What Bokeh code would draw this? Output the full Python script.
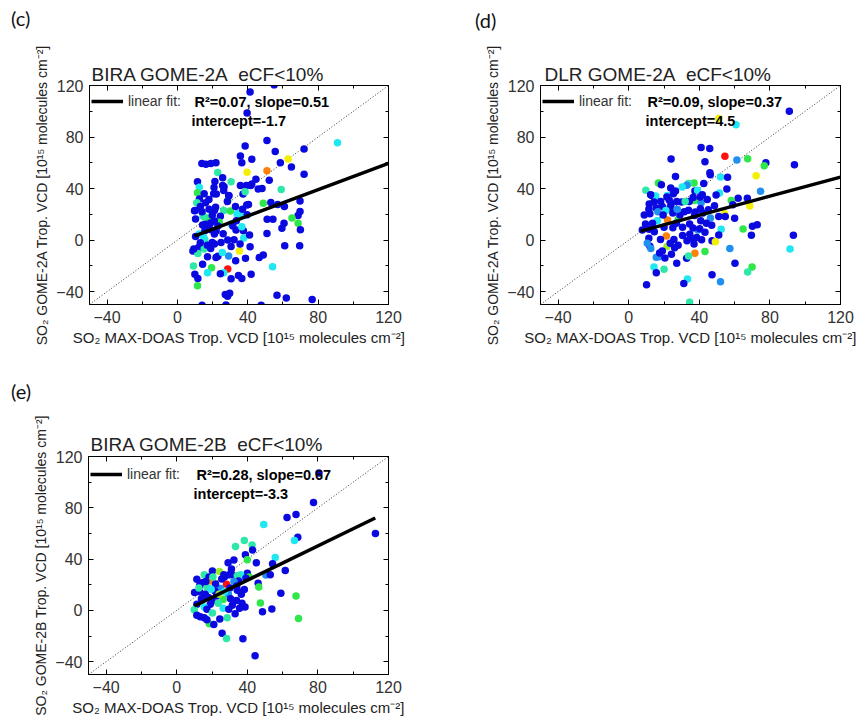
import numpy as np
from bokeh.plotting import figure
from bokeh.layouts import column, row
from bokeh.models import (ColumnDataSource, Div, Label, Legend, LegendItem, LinearAxis,
                          Range1d, SingleIntervalTicker, Spacer, Title)
from bokeh.embed import file_html
from bokeh.resources import INLINE

# ---------------- data ----------------
AXIS_LIM = [-50, 120]
TICK_STEP = 40

# colour classes (jet-like colour scale of the original)
PALETTE = {"b": "#0a0ae0", "s": "#1f8ff0", "c": "#1fe8f2", "a": "#2ee8a8",
           "g": "#2ee84a", "l": "#9aeb2a", "y": "#f2f000", "o": "#ff800a", "r": "#ff1010"}

# (c) BIRA GOME-2A
x_c = [41.3, 39.6, 55.0, 14.0, 47.6, 50.9, 38.5, 72.0, 91.0, 55.6,
       35.8, 62.9, 42.3, 36.6, 58.5, 13.9, 16.2, 19.0, 21.9, 64.8,
       39.6, 50.9, 22.9, 25.7, 72.0, 11.4, 30.5, 44.6, 52.2, 21.3,
       25.7, 35.8, 39.2, 41.7, 12.4, 48.1, 59.0, 11.4, 20.6, 15.2,
       29.1, 37.3, 38.5, 17.9, 12.5, 11.0, 16.0, 28.6, 40.4, 48.8,
       53.1, 57.0, 69.7, 60.8, 10.1, 21.0, 26.3, 30.1, 33.9, 35.4,
       39.6, 69.7, 68.6, 14.5, 10.3, 17.1, 24.4, 51.0, 54.3, 65.1,
       68.6, 60.6, 23.8, 30.5, 15.8, 18.8, 21.0, 33.3, 37.5, 36.6,
       59.4, 69.9, 50.9, 12.4, 15.6, 21.0, 37.7, 41.0, 28.6, 15.6,
       12.0, 15.2, 21.0, 24.8, 30.5, 8.8, 35.2, 41.3, 11.6, 17.1,
       21.9, 29.1, 38.7, 46.5, 48.8, 61.0, 69.5, 9.1, 14.3, 19.4,
       28.6, 54.1, 17.1, 26.3, 24.4, 9.9, 11.6, 34.7, 36.6, 41.9,
       30.5, 11.4, 27.2, 29.7, 28.5, 56.6, 61.9, 76.6, 27.6, 22.1,
       29.3, 45.9, 28.4, 39.4, 9.7, 15.0, 21.7, 19.8, 23.0, 31.5,
       33.5, 14.3, 17.1, 10.3, 15.0, 19.8, 32.2, 35.6, 9.3, 18.9,
       23.0, 25.5, 33.1, 26.3, 26.5, 20.8, 42.3, 14.0, 18.0, 13.0,
       19.0, 22.0, 26.0, 13.0, 17.0, 37.0, 33.0]
y_c = [114.9, 98.7, 120.5, -50.5, -50.5, 77.3, 73.1, 70.8, 75.5, 68.7,
       65.3, 62.9, 62.7, 60.0, 60.0, 59.5, 58.8, 59.5, 60.0, 56.7,
       52.7, 53.8, 52.5, 48.3, 51.2, 45.2, 45.2, 47.3, 46.5, 45.4,
       42.3, 42.3, 42.3, 42.3, 41.0, 40.0, 39.2, 36.8, 36.0, 36.0,
       34.7, 35.7, 37.5, 31.6, 31.8, 29.0, 29.0, 30.8, 27.7, 28.5,
       29.2, 27.7, 30.3, 26.1, 23.0, 23.0, 23.0, 22.5, 20.4, 20.4,
       19.6, 22.2, 19.0, 18.8, 16.4, 17.2, 18.5, 16.2, 16.2, 17.2,
       13.0, 13.0, 13.8, 12.5, 12.3, 13.2, 14.8, 7.8, 7.3, 10.4,
       9.1, 8.1, 5.2, 4.7, 7.2, 4.7, 1.6, 3.9, 0.0, 0.0,
       -5.7, -7.0, -3.0, -1.8, -5.0, -8.4, -8.4, -5.2, -10.4, -13.0,
       -13.6, -12.3, -14.1, -13.6, -11.5, -4.4, -4.4, -20.1, -18.8, -21.4,
       -22.5, -20.6, -25.3, -25.3, -26.1, -26.6, -29.8, -27.4, -29.8, -26.6,
       -30.0, -35.5, -42.3, -41.3, -43.5, -42.8, -44.9, -46.2, -50.3, 35.7,
       34.4, 39.6, 30.0, 27.2, 22.8, 18.1, 25.4, 19.3, 11.0, 11.0,
       15.0, 11.8, 10.0, 2.8, 2.0, -1.9, 0.2, -3.0, -7.0, -6.6,
       -12.5, -9.6, -16.1, 38.5, 41.4, 40.9, 43.5, 22.0, 24.0, 26.0,
       8.0, 7.0, 5.0, -2.0, -4.0, 24.0, 26.0]
cls_c = ("bbbbbbbbcb" "bybbbbbbbb" "yoabbbabbb" "bbbbcbagbb" "bbabbabgbg"
         "bbbbbbagcc" "bbbcbgbbbg" "gbgabbbbbc" "bbbcbbcbba" "babbbbybab"
         "bsbbbbbabg" "rcccbbbbbb" "bgbbbbbbbb" "bbbbbabbbb" "bbbbcbbbbb"
         "bcbbbbbbbb" "bbbbbbb")

# (d) DLR GOME-2A
x_d = [91.0, 51.0, 60.8, 41.0, 45.9, 24.0, 54.5, 61.3, 67.4, 43.2,
       77.7, 76.8, 93.9, 46.0, 46.2, 52.0, 56.0, 72.2, 26.5, 42.5,
       16.8, 37.0, 33.9, 32.9, 30.3, 18.5, 9.7, 13.1, 15.3, 21.9,
       26.5, 25.3, 37.5, 39.0, 41.7, 51.4, 55.6, 74.7, 37.3, 34.3,
       29.9, 41.0, 62.0, 67.2, 58.1, 59.0, 68.6, 11.6, 45.1, 54.3,
       51.0, 54.7, 46.3, 60.0, 37.3, 40.8, 72.8, 70.1, 64.8, 52.4,
       39.2, 43.2, 51.0, 69.5, 93.3, 41.3, 47.2, 49.1, 36.4, 37.0,
       57.3, 91.4, 37.5, 43.2, 24.2, 21.3, 21.7, 32.8, 33.9, 27.2,
       17.0, 15.6, 14.3, 20.0, 15.6, 60.2, 69.9, 67.4, 47.2, 52.0,
       33.3, 31.2, 10.1, 34.5, 23.8, 12.4, 21.6, 23.0, 27.2, 32.0,
       36.5, 40.5, 14.3, 18.1, 11.4, 15.5, 19.0, 23.5, 33.9, 37.7,
       40.6, 48.6, 16.5, 21.0, 8.8, 12.0, 16.2, 22.0, 28.0, 7.7,
       11.5, 14.5, 20.0, 25.0, 30.5, 27.0, 36.4, 40.2, 34.5, 11.4,
       12.0, 18.0, 25.6, 23.5, 30.5, 33.0, 34.6, 38.5, 26.0, 28.0,
       19.0, 17.5, 20.5, 25.0, 29.0, 31.5, 19.5, 13.5, 9.5, 24.0,
       44.0, 47.0, 42.0, 27.5, 44.5, 49.5, 10.5, 12.5]
y_d = [100.0, 94.3, 89.6, 71.8, 71.0, 62.9, 65.0, 62.1, 63.2, 60.8,
       60.0, 57.7, 58.5, 52.2, 50.8, 49.0, 48.8, 49.9, 49.3, 43.9,
       44.4, 44.4, 43.9, 42.6, 41.3, 43.0, 38.6, 34.7, 34.2, 34.7,
       38.1, 36.0, 38.1, 38.6, 35.2, 36.6, 39.7, 37.9, 30.8, 30.0,
       29.5, 29.0, 32.4, 32.4, 30.8, 27.5, 26.4, 28.0, 23.5, 20.4,
       18.3, 18.3, 17.2, 17.0, 19.1, 15.1, 12.0, 10.7, 8.6, 8.4,
       7.8, 6.0, 3.9, 3.7, 3.7, 0.3, -0.5, -1.3, 0.8, -3.0,
       -6.5, -7.0, -10.2, -8.9, -11.0, 3.1, -5.0, -14.1, -12.3, -18.0,
       -13.0, -13.3, -20.9, -22.7, -25.3, -18.0, -20.9, -24.8, -26.9, -32.4,
       -30.3, -33.7, -34.7, -48.3, 40.4, 35.2, 33.5, 31.0, 30.0, 30.0,
       33.0, 33.5, 29.5, 30.0, 24.0, 25.0, 26.0, 25.5, 23.2, 21.9,
       24.4, 26.7, 22.0, 23.0, 19.5, 20.5, 15.0, 15.5, 16.0, 7.8,
       8.5, 6.5, 10.0, 9.5, 10.0, 13.0, 9.3, 8.8, 12.5, 1.5,
       -4.8, 0.5, 0.5, -2.5, 3.5, -0.5, 4.5, 2.0, -6.0, -4.0,
       -8.5, -10.0, -14.0, 21.0, 19.5, 22.0, 19.5, 13.0, 12.5, 28.0,
       13.0, 11.5, 21.0, 24.0, 31.5, 35.0, -2.5, -6.5]
cls_d = ("bycbbbrsgb" "bgbbbcbybb" "ggascbabcc" "bbbcbcbsgb" "bsbbgbybby"
         "bbsbbbbbgc" "sbbbbbbybb" "scogbolbab" "sscabbgabs" "cbbabbbbba"
         "bbbbbbbbbb" "bbscbbcogb" "bbbbbbbbbb" "bbbbbbbbbb" "bbbbbbbbbb"
         "bbbsbbss")

# (e) BIRA GOME-2B
x_e = [80.6, 77.5, 62.5, 67.6, 49.3, 68.6, 66.7, 112.6, 38.3, 42.7,
       33.3, 43.0, 55.8, 38.9, 40.0, 32.4, 29.1, 45.1, 54.3, 61.5,
       31.0, 20.2, 24.2, 40.0, 11.4, 15.6, 18.3, 26.7, 29.7, 31.4,
       36.2, 34.3, 50.5, 53.0, 41.1, 39.2, 19.8, 35.0, 32.4, 14.9,
       17.1, 28.2, 46.1, 46.5, 24.8, 30.1, 34.3, 38.3, 10.1, 12.9,
       16.2, 21.5, 22.6, 29.3, 36.6, 59.0, 67.6, 26.3, 30.5, 20.0,
       33.9, 19.0, 47.4, 11.4, 15.6, 26.3, 29.5, 35.6, 38.7, 9.9,
       17.1, 53.9, 48.6, 11.4, 13.3, 15.6, 20.2, 33.1, 28.6, 24.4,
       69.0, 18.5, 21.0, 17.1, 25.7, 28.2, 37.5, 44.4, 13.0, 16.5,
       22.0, 19.5, 27.0, 23.5, 31.5, 37.0, 18.0, 14.0, 20.5, 25.5,
       34.0, 12.5, 24.0, 27.0]
y_e = [107.2, 84.2, 72.4, 74.8, 66.9, 57.0, 54.4, 59.9, 54.4, 51.0,
       49.9, 47.1, 41.3, 43.4, 39.5, 39.2, 37.1, 37.1, 36.3, 31.1,
       32.2, 30.8, 30.3, 29.0, 24.3, 27.7, 26.1, 27.7, 27.7, 27.7,
       27.7, 27.0, 27.5, 27.7, 26.1, 25.0, 23.0, 23.0, 22.5, 21.7,
       18.0, 20.4, 21.2, 18.3, 17.0, 17.5, 15.7, 16.2, 13.9, 14.5,
       12.5, 15.3, 11.2, 12.5, 12.5, 13.3, 11.2, 8.4, 9.0, 7.3,
       7.8, 4.7, 5.8, 4.7, 2.6, 1.6, 0.8, 1.6, 2.6, 0.5,
       0.8, 1.0, -1.0, -3.7, -5.0, -5.8, -2.1, -2.6, -5.8, -6.8,
       -6.3, -10.5, -11.0, -7.3, -17.8, -22.0, -22.2, -35.3, 19.5, 22.5,
       20.5, 16.5, 14.5, 5.5, 4.0, 5.5, 10.0, 9.0, 26.0, 24.5,
       19.0, 17.5, 12.5, 26.0]
cls_e = ("bbbbcbcbaa" "abcbgbbbbb" "bblbbabbbb" "casbgbobsb" "arbgsbbbbb"
         "bbbsbbggbb" "bbgbccbbba" "bbbbbbabab" "ggbbbabbbb" "bccabbbbab"
         "balb")

# linear fits: slope, intercept, x-extent of the fitted line
fit_c = [0.51, -1.7, 9.5, 120.0]
fit_d = [0.37, 4.5, 6.7, 120.0]
fit_e = [0.67, -3.3, 10.0, 112.5]

titles = ["BIRA GOME-2A\u00a0 eCF<10%", "DLR GOME-2A\u00a0 eCF<10%", "BIRA GOME-2B\u00a0 eCF<10%"]
letters = ["(c)", "(d)", "(e)"]
stat_texts = ["R\u00b2=0.07, slope=0.51", "R\u00b2=0.09, slope=0.37", "R\u00b2=0.28, slope=0.67"]
icpt_texts = ["intercept=-1.7", "intercept=4.5", "intercept=-3.3"]
ylabels = ["SO\u2082 GOME-2A Trop. VCD [10\u00b9\u2075 molecules cm\u207b\u00b2]",
           "SO\u2082 GOME-2A Trop. VCD [10\u00b9\u2075 molecules cm\u207b\u00b2]",
           "SO\u2082 GOME-2B Trop. VCD [10\u00b9\u2075 molecules cm\u207b\u00b2]"]
xlabel = "SO\u2082 MAX-DOAS Trop. VCD [10\u00b9\u2075 molecules cm\u207b\u00b2]"

# ---------------- style ----------------
FONT = "Liberation Sans"
TXT = "#222222"


def style_axis(ax, show_labels, label_size="15px"):
    ax.ticker = SingleIntervalTicker(interval=TICK_STEP, num_minor_ticks=2)
    ax.major_tick_in = 5
    ax.major_tick_out = 0
    ax.minor_tick_in = 3
    ax.minor_tick_out = 0
    ax.axis_line_color = "black"
    ax.major_tick_line_color = "black"
    ax.minor_tick_line_color = "black"
    if show_labels:
        ax.major_label_text_font = FONT
        ax.major_label_text_font_size = "16px"
        ax.major_label_text_color = "#333333"
        ax.major_label_standoff = 6
        ax.axis_label_text_font = FONT
        ax.axis_label_text_font_size = label_size
        ax.axis_label_text_font_style = "normal"
        ax.axis_label_text_color = TXT
        ax.axis_label_standoff = 3
    else:
        ax.major_label_text_font_size = "1px"
        ax.major_label_text_color = None
        ax.major_label_standoff = 0


def make_panel(xs, ys, cls, fit, i, cfg):
    fh = cfg["h"] - cfg["bt"] - cfg["bb"]
    p = figure(width=cfg["w"], height=cfg["h"], title=None,
               x_range=Range1d(*AXIS_LIM), y_range=Range1d(*AXIS_LIM),
               output_backend="svg", toolbar_location=None,
               min_border_left=cfg["bl"], min_border_right=cfg["br"],
               min_border_top=cfg["bt"], min_border_bottom=cfg["bb"])
    p.xgrid.visible = False
    p.ygrid.visible = False
    p.outline_line_color = "black"
    p.outline_line_alpha = 1.0
    p.outline_line_width = 1
    p.background_fill_color = "white"
    p.border_fill_color = "white"
    p.add_layout(LinearAxis(), "above")
    p.add_layout(LinearAxis(), "right")
    style_axis(p.below[0], True, "15px")
    style_axis(p.left[0], True, "14px")
    style_axis(p.above[0], False)
    style_axis(p.right[0], False)
    p.below[0].axis_label = xlabel
    p.left[0].axis_label = ylabels[i]

    p.add_layout(Title(text=titles[i], align="left", offset=cfg["tx"], standoff=cfg["ts"],
                       text_font=FONT, text_font_size="19px", text_font_style="normal",
                       text_color=TXT), "above")

    # 1:1 line
    p.line(AXIS_LIM, AXIS_LIM, line_color="black", line_width=0.8, line_dash="1 2")

    src = ColumnDataSource(dict(x=xs, y=ys, color=[PALETTE[k] for k in cls]))
    p.scatter("x", "y", source=src, size=7.5, fill_color="color", line_color=None)

    slope, icpt, x0, x1 = fit
    fx = np.array([x0, x1])
    fr = p.line(fx, slope * fx + icpt, line_color="black", line_width=3.5)

    leg = Legend(items=[LegendItem(label="linear fit:", renderers=[fr])],
                 location="top_left", margin=2, padding=0, spacing=0,
                 glyph_width=32, glyph_height=cfg["lg"], label_height=cfg["lg"],
                 label_standoff=5, background_fill_alpha=0, border_line_alpha=0,
                 label_text_font=FONT, label_text_font_size="14px",
                 label_text_color="#333333")
    p.add_layout(leg)

    common = dict(x_units="screen", y_units="screen", text_baseline="middle")
    p.add_layout(Label(x=cfg["sx"], y=fh - cfg["sy"], text=stat_texts[i],
                       text_font=FONT, text_font_style="bold", text_font_size="14.5px",
                       text_color="black", **common))
    p.add_layout(Label(x=cfg["ix"], y=fh - cfg["iy"], text=icpt_texts[i],
                       text_font=FONT, text_font_style="bold", text_font_size="14.5px",
                       text_color="black", **common))
    return p


def letter_div(text, width, height, left, top):
    return Div(text=text, width=width, height=height,
               styles={"font-family": "Lato, 'Liberation Sans', sans-serif",
                       "font-size": "20px", "line-height": "24px", "color": "#111111",
                       "padding-left": f"{left}px", "padding-top": f"{top}px",
                       "box-sizing": "border-box", "margin": "0px"})


cfg_c = dict(w=397, h=322, bl=53, br=40, bt=47, bb=56, lg=28,
             sx=105, sy=16, ix=102, iy=35, tx=2, ts=2)
cfg_d = dict(w=428, h=322, bl=112, br=16, bt=47, bb=56, lg=28,
             sx=107, sy=16, ix=105, iy=35, tx=4, ts=2)
cfg_e = dict(w=428, h=316, bl=88, br=40, bt=52, bb=46, lg=32,
             sx=108, sy=18, ix=105, iy=37, tx=2, ts=3)

pc = make_panel(x_c, y_c, cls_c, fit_c, 0, cfg_c)
pd_ = make_panel(x_d, y_d, cls_d, fit_d, 1, cfg_d)
pe = make_panel(x_e, y_e, cls_e, fit_e, 2, cfg_e)

lc = letter_div(letters[0], 428, 38, 11, 6)
ld = letter_div(letters[1], 428, 38, 47, 8)
le = letter_div(letters[2], 428, 44, 11, 19)

layout = column(row(lc, ld), row(Spacer(width=31, height=322), pc, pd_), le, pe)
open("out.html", "w").write(file_html(layout, INLINE))
